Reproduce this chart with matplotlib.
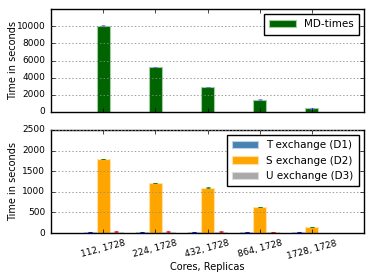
import numpy as np
import matplotlib
matplotlib.use("Agg")
import matplotlib.pyplot as plt

plt.style.use("classic")
plt.rcParams["figure.facecolor"] = "white"
plt.rcParams["savefig.facecolor"] = "white"
plt.rcParams["font.size"] = 6.5

labels = ["112, 1728", "224, 1728", "432, 1728", "864, 1728", "1728, 1728"]
md_times = [10050, 5250, 2900, 1450, 450]
md_err = [30, 30, 30, 30, 50]
t_exch = [25, 20, 25, 20, 20]
t_err = [5, 5, 5, 5, 5]
s_exch = [1800, 1210, 1100, 630, 145]
s_err = [8, 8, 12, 8, 8]
u_exch = [35, 35, 35, 25, 5]
u_err = [8, 8, 8, 5, 3]

x = np.arange(len(labels))
w = 0.25
grid_style = dict(linestyle=(0, (1, 1.5)), color="0.55", linewidth=0.6)

fig = plt.figure(figsize=(3.74, 2.8), dpi=100)
ax1 = fig.add_axes([51/374, 1-112/280, 313/374, 103/280])
ax2 = fig.add_axes([51/374, 1-233/280, 313/374, 103/280])

ax1.bar(x, md_times, w, align="center", color="darkgreen", edgecolor="#9fcf9f", linewidth=0.8, label="MD-times")
ax1.errorbar(x, md_times, yerr=md_err, fmt="none", ecolor="#6a6aff", capsize=1.5, elinewidth=0.8)
ax1.set_xlim(-1, 5)
ax1.set_ylim(0, 12000)
ax1.set_yticks(range(0, 10001, 2000))
ax1.set_xticks(x)
ax1.set_xticklabels([])
ax1.yaxis.grid(True, **grid_style)
ax1.set_ylabel("Time in seconds", fontsize=7)
ax1.yaxis.set_label_coords(-0.105, 0.5)
ax1.legend(loc="upper right", fontsize=7.5, handlelength=2.5, borderpad=0.5)

ax2.bar(x - w, t_exch, w, align="center", color="steelblue", edgecolor="#bcd2e6", linewidth=0.8, label="T exchange (D1)")
ax2.bar(x, s_exch, w, align="center", color="orange", edgecolor="#ffe0a6", linewidth=0.8, label="S exchange (D2)")
ax2.bar(x + w, u_exch, w, align="center", color="darkgray", edgecolor="#dcdcdc", linewidth=0.8, label="U exchange (D3)")
ax2.errorbar(x - w, t_exch, yerr=t_err, fmt="none", ecolor="b", capsize=1.5, elinewidth=0.8)
ax2.errorbar(x, s_exch, yerr=s_err, fmt="none", ecolor="g", capsize=1.5, elinewidth=0.8)
ax2.errorbar(x + w, u_exch, yerr=u_err, fmt="none", ecolor="r", capsize=1.5, elinewidth=0.8)
ax2.set_xlim(-1, 5)
ax2.set_ylim(0, 2500)
ax2.set_yticks(range(0, 2501, 500))
ax2.set_xticks(x)
ax2.set_xticklabels(labels, rotation=15)
ax2.yaxis.grid(True, **grid_style)
ax2.set_ylabel("Time in seconds", fontsize=7)
ax2.yaxis.set_label_coords(-0.105, 0.5)
ax2.set_xlabel("Cores, Replicas", fontsize=7, labelpad=1)
ax2.legend(loc="upper right", fontsize=7.5, handlelength=2.5, borderpad=0.5, labelspacing=0.5)

for ax in (ax1, ax2):
    ax.tick_params(labelsize=6.5, length=3)

fig.savefig("out.png", dpi=100)
